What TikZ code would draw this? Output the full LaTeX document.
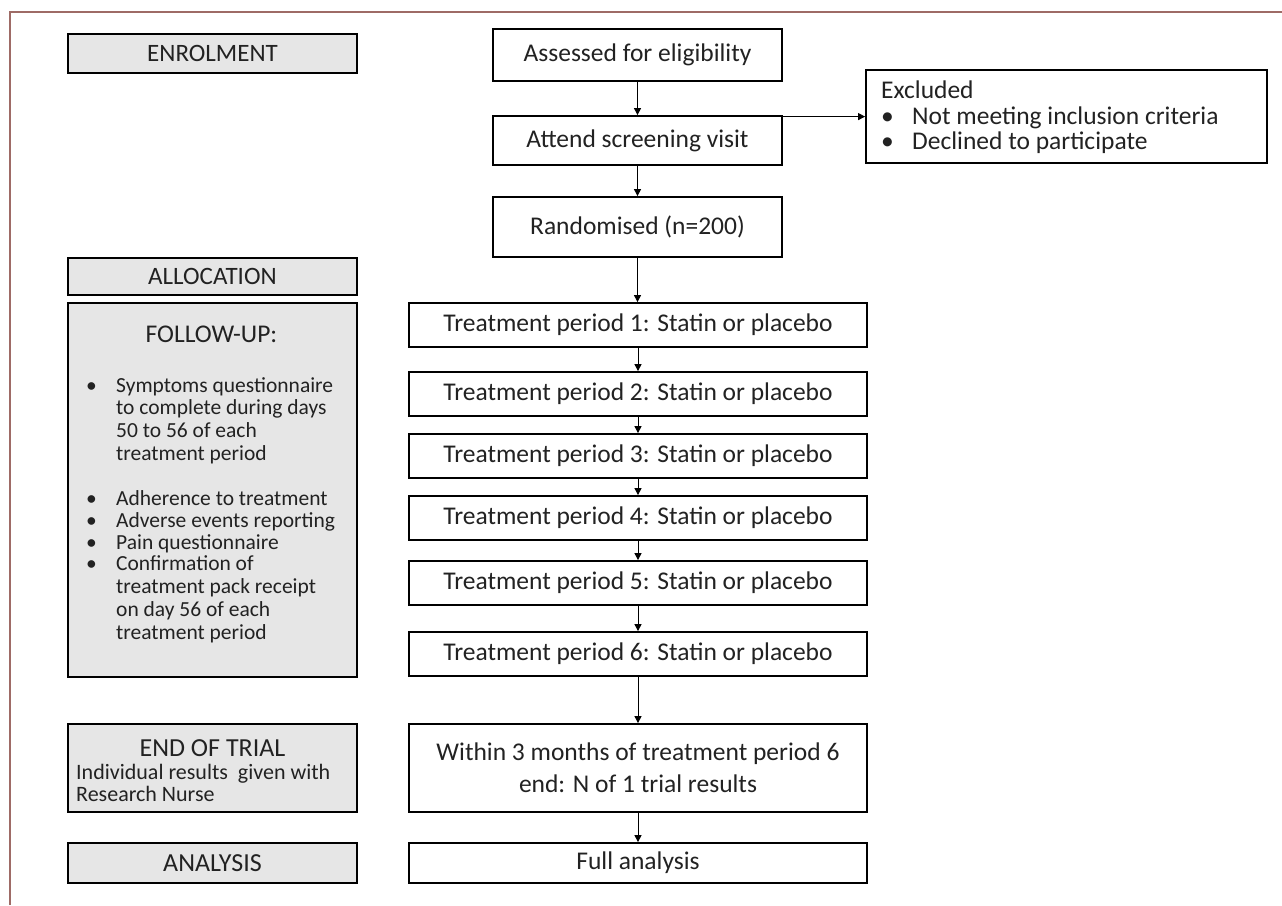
\documentclass[tikz,border=0pt]{standalone}
\usepackage{fontspec}
\setmainfont{Carlito}
\usetikzlibrary{arrows.meta}
\definecolor{frameclr}{HTML}{9E6B66}
\definecolor{grayfill}{HTML}{E6E6E6}
\definecolor{txt}{HTML}{222222}
\tikzset{
  stagebox/.style={draw=black, line width=2pt, fill=grayfill, inner sep=0pt, text=txt, font=\fontsize{25}{30}\selectfont},
  flowbox/.style={draw=black, line width=1.8pt, fill=white, inner sep=0pt, text=txt, font=\fontsize{25.5}{31}\selectfont},
  flowarrow/.style={line width=1pt, -{Triangle[width=7pt,length=7pt]}},
  bullettext/.style={anchor=base west, inner sep=0pt, text=txt, font=\fontsize{21.5}{25}\selectfont},
  excltext/.style={anchor=base west, inner sep=0pt, text=txt, font=\fontsize{25.5}{31}\selectfont},
}
\begin{document}
\begin{tikzpicture}[x=1pt,y=-1pt]
\useasboundingbox (0,0) rectangle (1282,905);
% frame
\draw[frameclr, line width=1.5pt] (10,905) -- (10,12) -- (1282,12);

% left column
\node[stagebox, minimum width=289pt, minimum height=39pt] (enrol) at (212.5,53.5) {ENROLMENT};
\node[stagebox, minimum width=289pt, minimum height=37pt] (alloc) at (212.5,276.5) {ALLOCATION};
\node[stagebox, minimum width=289pt, minimum height=374pt] (follow) at (212.5,490) {};
\node[anchor=base, inner sep=0pt, text=txt, font=\fontsize{25.5}{30}\selectfont] (followtitle) at (211.5,342) {FOLLOW-UP:};
\foreach \i/\t/\y in {1/Symptoms questionnaire/392, 2/to complete during days/414.5, 3/50 to 56 of each/437, 4/treatment period/460, 5/Adherence to treatment/505, 6/Adverse events reporting/527, 7/Pain questionnaire/549, 8/Confirmation of/570, 9/treatment pack receipt/593, 10/on day 56 of each/616, 11/treatment period/639}{
  \node[bullettext] (fl\i) at (116,\y) {\t};
}
\foreach \i/\y in {1/392, 5/505, 6/527, 7/549, 8/570}{
  \node[bullettext] (fb\i) at (86,\y) {\textbullet};
}
\node[stagebox, minimum width=289pt, minimum height=88pt] (endtrial) at (212.5,768) {};
\node[anchor=base, inner sep=0pt, text=txt, font=\fontsize{26}{30}\selectfont] (endtitle) at (212.5,756) {END OF TRIAL};
\node[bullettext, font=\fontsize{22}{25}\selectfont] (endl1) at (76,779) {Individual results\ \ given with};
\node[bullettext, font=\fontsize{22}{25}\selectfont] (endl2) at (76,801) {Research Nurse};
\node[stagebox, minimum width=289pt, minimum height=40pt, font=\fontsize{26}{30}\selectfont] (analysis) at (212.5,863) {ANALYSIS};

% right column
\node[flowbox, minimum width=289pt, minimum height=52pt] (assess) at (637.5,55) {Assessed for eligibility};
\node[flowbox, minimum width=289pt, minimum height=49pt] (attend) at (637.5,140.5) {Attend screening visit};
\node[flowbox, minimum width=401pt, minimum height=93pt] (excl) at (1066.5,116.5) {};
\node[excltext] (excltitle) at (881,98) {Excluded};
\node[excltext] (exclb1) at (881,124) {\textbullet};
\node[excltext] (excl1) at (912,124) {Not meeting inclusion criteria};
\node[excltext] (exclb2) at (881,149) {\textbullet};
\node[excltext] (excl2) at (912,149) {Declined to participate};
\node[flowbox, minimum width=289pt, minimum height=60pt] (rand) at (637.5,227) {Randomised (n=200)};
\foreach \i/\y in {1/325, 2/394, 3/456, 4/518, 5/583, 6/654}{
  \node[flowbox, minimum width=458pt, minimum height=44pt] (tp\i) at (638,\y) {Treatment period \i: Statin or placebo};
}
\node[flowbox, minimum width=458pt, minimum height=88pt, align=center, font=\fontsize{25.5}{32}\selectfont] (within) at (638,768) {Within 3 months of treatment period 6\\end: N of 1 trial results};
\node[flowbox, minimum width=458pt, minimum height=40pt] (full) at (638,863) {Full analysis};

% connectors
\draw[flowarrow] (assess.south) -- (attend.north);
\coordinate (exstart) at ([yshift=-1.5pt]attend.north east);
\draw[flowarrow] (exstart) -- (exstart -| excl.west);
\draw[flowarrow] (attend.south) -- (rand.north);
\draw[flowarrow] (rand.south) -- (rand.south |- tp1.north);
\draw[flowarrow] (tp1.south) -- (tp2.north);
\draw[flowarrow] (tp2.south) -- (tp3.north);
\draw[flowarrow] (tp3.south) -- (tp4.north);
\draw[flowarrow] (tp4.south) -- (tp5.north);
\draw[flowarrow] (tp5.south) -- (tp6.north);
\draw[flowarrow] (tp6.south) -- (within.north);
\draw[flowarrow] (within.south) -- (full.north);
\end{tikzpicture}
\end{document}
